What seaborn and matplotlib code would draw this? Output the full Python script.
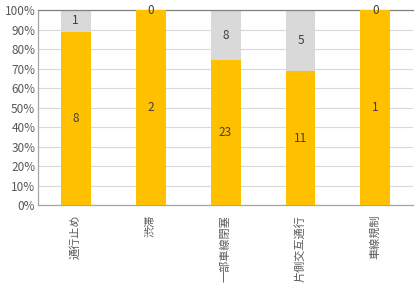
import matplotlib
matplotlib.use("Agg")
import matplotlib.pyplot as plt
import seaborn as sns
import numpy as np
import pandas as pd
from matplotlib.ticker import PercentFormatter

categories = ["通行止め", "渋滞", "一部車線閉塞", "片側交互通行", "車線規制"]
orange_vals = [8, 2, 23, 11, 1]
gray_vals = [1, 0, 8, 5, 0]
yticks = [0, 10, 20, 30, 40, 50, 60, 70, 80, 90, 100]

sns.set_theme(style="white")
plt.rcParams['font.family'] = ['Noto Sans CJK JP', 'DejaVu Sans']

totals = np.array(orange_vals) + np.array(gray_vals)
df = pd.DataFrame({
    "cat": categories,
    "orange_pct": np.array(orange_vals) / totals * 100,
    "total_pct": np.full(len(categories), 100.0),
})

fig = plt.figure(figsize=(4.18, 2.86), dpi=100)
ax = fig.add_axes([0.091, 0.283, 0.897, 0.682])

sns.barplot(data=df, x="cat", y="total_pct", color="#D9D9D9", width=0.4,
            saturation=1, linewidth=0, ax=ax, zorder=2)
sns.barplot(data=df, x="cat", y="orange_pct", color="#FFC000", width=0.4,
            saturation=1, linewidth=0, ax=ax, zorder=3)

orange_bars = ax.containers[1]
ax.bar_label(orange_bars, labels=[str(v) for v in orange_vals],
             label_type="center", fontsize=8.5, color="#404040")
for i, (p, g) in enumerate(zip(df["orange_pct"], gray_vals)):
    ax.text(i, (p + 100) / 2, str(g), ha="center", va="center",
            fontsize=8.5, color="#404040", zorder=5)

ax.set_ylim(0, 100)
ax.set_xlim(-0.5, len(categories) - 0.5)
ax.set_yticks(yticks)
ax.yaxis.set_major_formatter(PercentFormatter(decimals=0))
ax.grid(axis="y", color="#D9D9D9", linewidth=0.8, zorder=0)
ax.set_axisbelow(True)
ax.set_xlabel("")
ax.set_ylabel("")
ax.tick_params(axis="y", labelsize=8.5, colors="#595959", length=0, pad=2)
ax.tick_params(axis="x", labelsize=8, colors="#595959", length=0, pad=7)
for lbl in ax.get_xticklabels():
    lbl.set_rotation(90)
    lbl.set_va("top")
    lbl.set_ha("center")
for side in ["left", "bottom", "top"]:
    ax.spines[side].set_color("#A6A6A6")
    ax.spines[side].set_linewidth(0.9)
ax.spines["top"].set_color("#808080")
ax.spines["right"].set_visible(False)

fig.savefig("out.png", dpi=100)
